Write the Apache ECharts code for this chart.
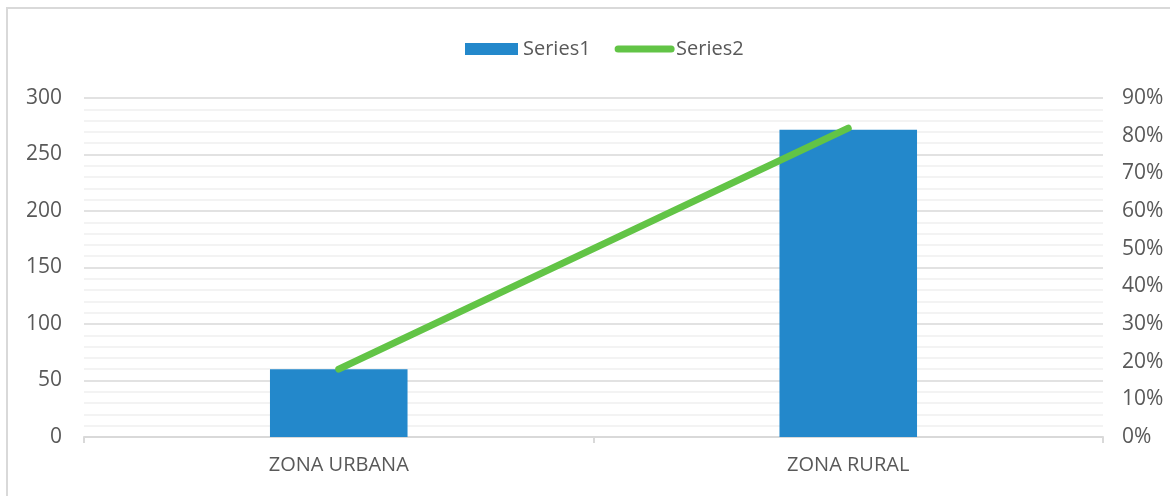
<!DOCTYPE html>
<html>
<head>
<meta charset="utf-8">
<style>
  html, body { margin: 0; padding: 0; background: #fff; }
  #chart { width: 1170px; height: 496px; }
</style>
<script src="https://cdn.jsdelivr.net/npm/echarts@6/dist/echarts.min.js"></script>
</head>
<body>
<div id="chart"></div>
<script>
// values
var categories = ['ZONA URBANA', 'ZONA RURAL'];
var series1 = [60, 272];
var series2 = [0.18, 0.82];

var FONT = '"Open Sans", sans-serif';

var chart = echarts.init(document.getElementById('chart'));
chart.setOption({
  animation: false,
  textStyle: { fontFamily: FONT },
  graphic: [{
    type: 'rect',
    shape: { x: 7, y: 8, width: 1200, height: 520 },
    style: { fill: 'none', stroke: '#d9d9d9', lineWidth: 2 },
    silent: true
  }],
  legend: {
    top: 34,
    left: 460,
    itemWidth: 53,
    itemHeight: 12,
    itemGap: 24,
    textStyle: { fontFamily: FONT, fontSize: 20, color: '#595959' },
    data: [
      { name: 'Series1', icon: 'rect' },
      {
        name: 'Series2',
        itemStyle: { opacity: 0 },
        lineStyle: { color: '#62c446', width: 7, cap: 'round' }
      }
    ]
  },
  grid: { left: 84, right: 67, top: 98, bottom: 59 },
  xAxis: {
    type: 'category',
    data: categories,
    axisLine: { lineStyle: { color: '#d9d9d9', width: 2 } },
    axisTick: { show: true, length: 6, lineStyle: { color: '#d9d9d9', width: 2 } },
    axisLabel: { fontSize: 20, color: '#595959', margin: 18 }
  },
  yAxis: [{
    type: 'value',
    min: 0, max: 300, interval: 50,
    axisLine: { show: false },
    axisTick: { show: false },
    axisLabel: { fontSize: 21, color: '#595959', margin: 22 },
    splitLine: { lineStyle: { color: '#d9d9d9', width: 1.5 } },
    minorTick: { show: false, splitNumber: 5 },
    minorSplitLine: { show: true, lineStyle: { color: '#f0f0f0', width: 1.5 } }
  }, {
    type: 'value',
    min: 0, max: 0.9, interval: 0.1,
    axisLine: { show: false },
    axisTick: { show: false },
    splitLine: { show: false },
    axisLabel: {
      fontSize: 21, color: '#595959', margin: 19,
      formatter: function (v) { return Math.round(v * 100) + '%'; }
    }
  }],
  series: [{
    name: 'Series1',
    type: 'bar',
    data: series1,
    barWidth: '27%',
    itemStyle: { color: '#2388cb' }
  }, {
    name: 'Series2',
    type: 'line',
    yAxisIndex: 1,
    data: series2,
    symbol: 'none',
    lineStyle: { color: '#62c446', width: 7, cap: 'round' },
    itemStyle: { color: '#62c446' }
  }]
});
</script>
</body>
</html>
